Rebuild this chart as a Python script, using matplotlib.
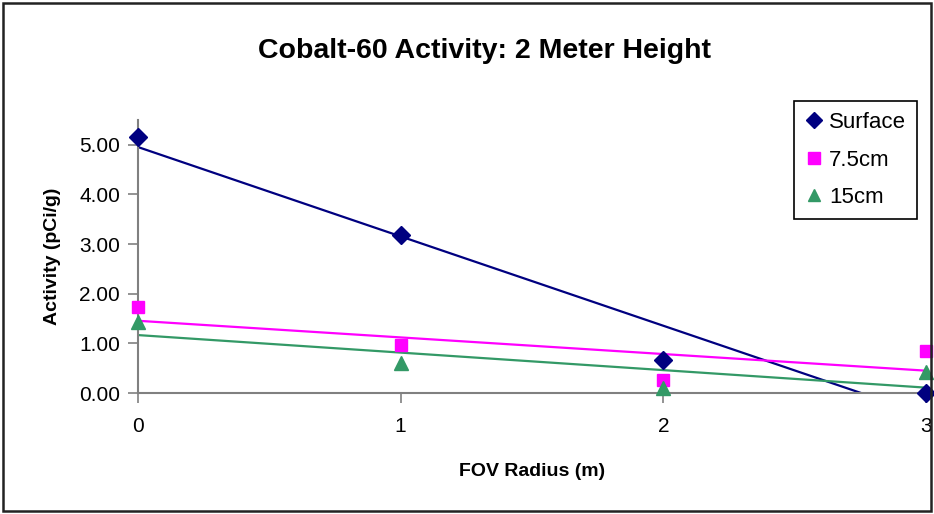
import matplotlib.pyplot as plt
import numpy as np
from matplotlib.patches import Rectangle

plt.rcParams['font.family'] = ['Liberation Sans', 'DejaVu Sans']

# FOV radius (m)
radius = [0, 1, 2, 3]
# activity (pCi/g) par profondeur
surface = [5.16, 3.19, 0.67, 0.0]
cm75 = [1.73, 0.97, 0.26, 0.85]
cm15 = [1.43, 0.60, 0.10, 0.42]

series = [
    ('Surface', surface, '#000080', 'D', 9),
    ('7.5cm', cm75, '#FF00FF', 's', 9),
    ('15cm', cm15, '#339966', '^', 10),
]

fig = plt.figure(figsize=(9.34, 5.14), dpi=100)
# cadre autour de la figure
fig.patches.append(Rectangle((0.003, 0.005), 0.994, 0.99, transform=fig.transFigure,
                             fill=False, edgecolor='#222222', lw=1.8))
ax = fig.add_axes([0.1478, 0.2354, 0.9914 - 0.1478, 0.7665 - 0.2354])

xs = np.array(radius, dtype=float)
handles = []
for name, ys, col, mk, ms in series:
    h, = ax.plot(xs, ys, linestyle='none', marker=mk, color=col, ms=ms,
                 clip_on=False, zorder=3, label=name)
    handles.append(h)
    # courbe de tendance lineaire
    a, b = np.polyfit(xs, ys, 1)
    xx = np.linspace(0, 3, 50)
    ax.plot(xx, a * xx + b, color=col, lw=1.6, zorder=2)

ax.set_xlim(0, 3)
ax.set_ylim(0, 5.5)
ax.set_xticks([0, 1, 2, 3])
ax.set_yticks([0, 1, 2, 3, 4, 5])
ax.set_yticklabels(['%.2f' % v for v in [0, 1, 2, 3, 4, 5]])
for s in ['top', 'right']:
    ax.spines[s].set_visible(False)
for s in ['left', 'bottom']:
    ax.spines[s].set_color('#808080')
    ax.spines[s].set_linewidth(1.5)
ax.tick_params(axis='both', colors='#808080', labelcolor='black', labelsize=15,
               length=7, width=1.2, direction='out')
ax.tick_params(axis='x', pad=10)
ax.tick_params(axis='y', pad=6)

fig.text(0.519, 0.9, 'Cobalt-60 Activity: 2 Meter Height', ha='center', va='center',
         fontsize=20.5, fontweight='bold')
ax.set_xlabel('FOV Radius (m)', fontsize=14, fontweight='bold', labelpad=20)
ax.set_ylabel('Activity (pCi/g)', fontsize=14, fontweight='bold', labelpad=13)

leg = fig.legend(handles=handles, loc='upper right', bbox_to_anchor=(0.982, 0.804),
                 bbox_transform=fig.transFigure, fontsize=16, fancybox=False,
                 edgecolor='black', framealpha=1, handlelength=0.8, handletextpad=0.3,
                 labelspacing=0.75, borderpad=0.5, borderaxespad=0, markerscale=0.9)
leg.get_frame().set_linewidth(1.2)

fig.savefig('out.png', dpi=100)
